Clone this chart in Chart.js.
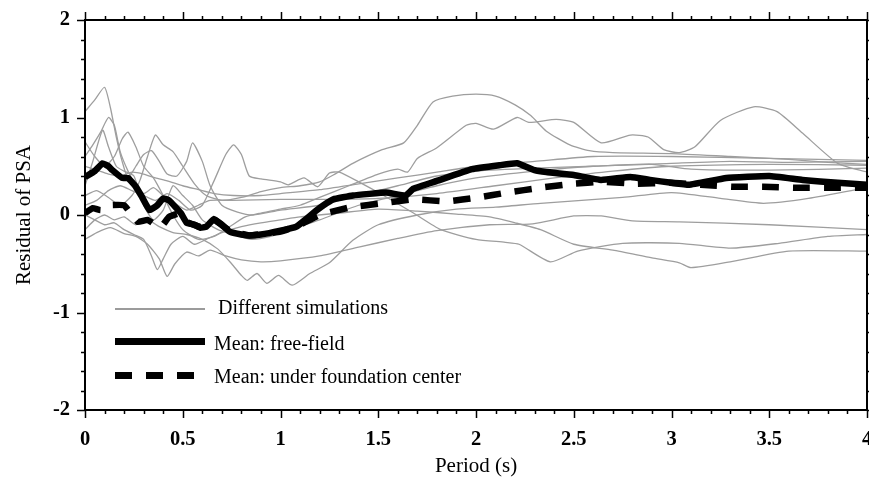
<!DOCTYPE html>
<html>
<head>
<meta charset="utf-8">
<script src="https://cdn.jsdelivr.net/npm/chart.js@4/dist/chart.umd.min.js"></script>
<style>
  html, body { margin: 0; padding: 0; background: #fff; }
  #wrap { position: relative; width: 869px; height: 479px; }
  .key-text {
    position: absolute;
    font-family: "Liberation Serif", "Times New Roman", serif;
    font-size: 20px;
    line-height: 20px;
    color: #000;
    white-space: nowrap;
  }
  .key-line { position: absolute; left: 115px; }
</style>
</head>
<body>
<div id="wrap">
  <canvas id="psaChart" width="869" height="479"></canvas>
  <div class="key-line" style="top:308px; width:90px; height:1.5px; background:#9b9b9b;"></div>
  <div class="key-text" style="left:218px; top:297px;">Different simulations</div>
  <div class="key-line" style="top:338px; width:90px; height:7px; background:#000;"></div>
  <div class="key-text" style="left:214px; top:333px;">Mean: free-field</div>
  <div class="key-line" style="top:372px; width:80px; height:7px; background:repeating-linear-gradient(90deg, #000 0 17px, transparent 17px 31px);"></div>
  <div class="key-text" style="left:214px; top:366px;">Mean: under foundation center</div>
</div>
<script>
// residual of PSA vs period, [period (s), residual]
const meanFreeField = [
  [0, 0.39], [0.05, 0.45], [0.09, 0.53], [0.12, 0.5], [0.14, 0.46], [0.19, 0.38], [0.22, 0.38],
  [0.26, 0.29], [0.29, 0.19], [0.33, 0.05], [0.37, 0.1], [0.4, 0.17], [0.43, 0.15], [0.49, 0.02],
  [0.52, -0.08], [0.56, -0.1], [0.59, -0.13], [0.62, -0.12], [0.66, -0.04], [0.7, -0.1],
  [0.74, -0.17], [0.8, -0.2], [0.84, -0.21], [0.9, -0.2], [1.0, -0.16], [1.08, -0.12],
  [1.12, -0.06], [1.18, 0.04], [1.22, 0.1], [1.27, 0.16], [1.37, 0.2], [1.54, 0.23], [1.64, 0.2],
  [1.68, 0.27], [1.8, 0.35], [1.98, 0.47], [2.12, 0.51], [2.21, 0.53], [2.3, 0.46], [2.36, 0.44],
  [2.5, 0.41], [2.64, 0.36], [2.79, 0.39], [2.89, 0.36], [3.0, 0.33], [3.09, 0.31], [3.28, 0.38],
  [3.5, 0.4], [3.67, 0.36], [3.85, 0.33], [4.0, 0.31]
];
const meanFoundation = [
  [0, 0.02], [0.04, 0.07], [0.08, 0.05], [0.12, 0.1], [0.2, 0.1], [0.24, 0.0], [0.27, -0.07],
  [0.32, -0.05], [0.36, -0.1], [0.39, -0.12], [0.43, -0.02], [0.49, 0.02], [0.52, -0.07],
  [0.59, -0.12], [0.66, -0.05], [0.74, -0.16], [0.84, -0.21], [1.0, -0.17], [1.1, -0.1],
  [1.2, 0.0], [1.36, 0.08], [1.52, 0.12], [1.68, 0.16], [1.85, 0.14], [2.01, 0.18], [2.16, 0.23],
  [2.33, 0.28], [2.49, 0.32], [2.65, 0.34], [2.82, 0.32], [2.99, 0.33], [3.15, 0.31], [3.31, 0.29],
  [3.47, 0.29], [3.63, 0.28], [3.8, 0.28], [4.0, 0.28]
];

// individual simulations
const sim1 = [
  [0, 1.06], [0.05, 1.18], [0.1, 1.31], [0.13, 1.1], [0.16, 0.8], [0.19, 0.55], [0.22, 0.38],
  [0.26, 0.5], [0.3, 0.62], [0.34, 0.66], [0.38, 0.55], [0.42, 0.42], [0.47, 0.4], [0.52, 0.55],
  [0.55, 0.74], [0.6, 0.55], [0.64, 0.3], [0.7, 0.1], [0.78, 0.03], [0.86, 0.0], [1.0, 0.05],
  [1.2, 0.1], [1.4, 0.2], [1.6, 0.3], [1.8, 0.4], [2.0, 0.45], [2.3, 0.48], [2.6, 0.5],
  [2.9, 0.52], [3.1, 0.47], [3.5, 0.46], [4.0, 0.48]
];
const sim2 = [
  [0, 0.2], [0.06, 0.25], [0.12, 0.18], [0.18, 0.1], [0.24, 0.2], [0.28, 0.35], [0.32, 0.6],
  [0.36, 0.82], [0.4, 0.72], [0.45, 0.65], [0.5, 0.5], [0.56, 0.32], [0.62, 0.2], [0.7, 0.15],
  [0.8, 0.18], [0.9, 0.24], [1.0, 0.28], [1.1, 0.3], [1.2, 0.34], [1.27, 0.41], [1.37, 0.53],
  [1.52, 0.67], [1.63, 0.74], [1.7, 0.92], [1.78, 1.16], [1.88, 1.22], [2.0, 1.24], [2.1, 1.22],
  [2.2, 1.13], [2.28, 1.02], [2.36, 0.86], [2.48, 0.72], [2.58, 0.66], [2.7, 0.64], [3.0, 0.63],
  [3.3, 0.6], [3.6, 0.57], [3.8, 0.54], [4.0, 0.52]
];
const sim3 = [
  [0, 0.75], [0.05, 0.6], [0.1, 0.5], [0.15, 0.6], [0.19, 0.78], [0.22, 0.85], [0.26, 0.7],
  [0.3, 0.5], [0.35, 0.38], [0.4, 0.2], [0.45, 0.0], [0.5, -0.15], [0.58, -0.25], [0.66, -0.22],
  [0.74, -0.12], [0.82, -0.02], [0.9, 0.02], [1.0, 0.06], [1.1, 0.1], [1.2, 0.18], [1.35, 0.3],
  [1.5, 0.42], [1.6, 0.47], [1.65, 0.44], [1.7, 0.58], [1.8, 0.69], [1.95, 0.92], [2.0, 0.94],
  [2.09, 0.88], [2.21, 1.0], [2.27, 0.95], [2.41, 0.98], [2.5, 0.95], [2.64, 0.74], [2.79, 0.82],
  [2.88, 0.8], [2.96, 0.67], [3.04, 0.64], [3.12, 0.7], [3.25, 0.97], [3.42, 1.11], [3.54, 1.06],
  [3.67, 0.84], [3.85, 0.53], [4.0, 0.44]
];
const sim4 = [
  [0, 0.1], [0.06, 0.15], [0.12, 0.25], [0.18, 0.3], [0.24, 0.25], [0.3, 0.2], [0.36, 0.15],
  [0.42, 0.22], [0.48, 0.15], [0.54, 0.05], [0.6, 0.1], [0.66, 0.35], [0.72, 0.62], [0.76, 0.72],
  [0.8, 0.62], [0.84, 0.4], [0.9, 0.37], [1.0, 0.34], [1.04, 0.31], [1.12, 0.38], [1.19, 0.29],
  [1.25, 0.43], [1.3, 0.44], [1.4, 0.34], [1.51, 0.22], [1.68, 0.02], [1.82, -0.15], [2.0, -0.25],
  [2.15, -0.28], [2.22, -0.3], [2.38, -0.48], [2.52, -0.37], [2.75, -0.29], [3.04, -0.29],
  [3.3, -0.34], [3.55, -0.29], [3.8, -0.22], [4.0, -0.2]
];
const sim5 = [
  [0, -0.15], [0.05, -0.05], [0.1, 0.0], [0.15, -0.05], [0.2, -0.02], [0.26, -0.1], [0.32, -0.05],
  [0.38, -0.12], [0.45, -0.18], [0.52, -0.2], [0.6, -0.25], [0.68, -0.35], [0.75, -0.5],
  [0.8, -0.62], [0.83, -0.67], [0.88, -0.6], [0.93, -0.7], [0.99, -0.62], [1.06, -0.72],
  [1.15, -0.6], [1.25, -0.49], [1.37, -0.26], [1.5, -0.1], [1.7, 0.0], [1.9, 0.06], [2.1, 0.08],
  [2.33, 0.12], [2.75, 0.18], [3.0, 0.23], [3.25, 0.17], [3.47, 0.12], [3.7, 0.17], [4.0, 0.28]
];
const sim6 = [
  [0, 0.0], [0.05, -0.05], [0.1, -0.1], [0.15, -0.08], [0.2, -0.15], [0.25, -0.2], [0.3, -0.25],
  [0.34, -0.42], [0.37, -0.56], [0.4, -0.45], [0.44, -0.3], [0.5, -0.22], [0.56, -0.3],
  [0.62, -0.25], [0.7, -0.18], [0.8, -0.12], [0.9, -0.08], [1.0, -0.05], [1.1, -0.02], [1.3, 0.02],
  [1.5, 0.06], [1.7, 0.04], [1.9, 0.01], [2.07, -0.02], [2.2, -0.08], [2.33, -0.15], [2.5, -0.3],
  [2.7, -0.36], [2.9, -0.44], [3.04, -0.49], [3.1, -0.54], [3.3, -0.48], [3.6, -0.37], [4.0, -0.37]
];
const sim7 = [
  [0, -0.25], [0.06, -0.18], [0.13, -0.13], [0.2, -0.19], [0.26, -0.22], [0.32, -0.3],
  [0.38, -0.45], [0.42, -0.63], [0.46, -0.5], [0.52, -0.38], [0.58, -0.42], [0.64, -0.36],
  [0.72, -0.42], [0.8, -0.46], [0.9, -0.48], [1.0, -0.47], [1.2, -0.42], [1.4, -0.33], [1.6, -0.24],
  [1.8, -0.16], [2.07, -0.1], [2.29, -0.09], [2.5, -0.01], [2.64, -0.01], [2.8, -0.06],
  [3.04, -0.07], [3.5, -0.1], [4.0, -0.15]
];
const sim8 = [
  [0, 0.5], [0.06, 0.46], [0.12, 0.42], [0.18, 0.4], [0.24, 0.44], [0.3, 0.42], [0.36, 0.38],
  [0.42, 0.35], [0.5, 0.3], [0.58, 0.26], [0.66, 0.22], [0.76, 0.2], [0.9, 0.2], [1.0, 0.22],
  [1.2, 0.26], [1.4, 0.32], [1.6, 0.38], [1.8, 0.44], [2.0, 0.5], [2.3, 0.55], [2.6, 0.6],
  [3.0, 0.6], [3.5, 0.58], [4.0, 0.56]
];
const sim9 = [
  [0, 0.6], [0.04, 0.72], [0.08, 0.85], [0.12, 1.0], [0.15, 0.92], [0.18, 0.65], [0.22, 0.45],
  [0.26, 0.3], [0.3, 0.22], [0.35, 0.28], [0.4, 0.2], [0.46, 0.12], [0.52, 0.05], [0.58, 0.1],
  [0.64, 0.15], [0.75, 0.15], [1.0, 0.16], [1.25, 0.16], [1.5, 0.17], [1.8, 0.22], [2.1, 0.3],
  [2.4, 0.38], [2.7, 0.45], [3.0, 0.5], [3.5, 0.52], [4.0, 0.51]
];
const sim10 = [
  [0, 0.3], [0.04, 0.55], [0.09, 0.87], [0.12, 0.7], [0.16, 0.5], [0.2, 0.45], [0.25, 0.4],
  [0.3, 0.1], [0.35, -0.05], [0.4, 0.05], [0.45, 0.3], [0.5, 0.2], [0.55, 0.1], [0.6, -0.05],
  [0.68, -0.15], [0.76, -0.2], [0.85, -0.25], [0.95, -0.22], [1.05, -0.15], [1.2, -0.05],
  [1.4, 0.1], [1.6, 0.2], [1.8, 0.3], [2.0, 0.38], [2.3, 0.45], [2.6, 0.5], [3.0, 0.53],
  [3.3, 0.55], [3.6, 0.54], [4.0, 0.55]
];
const simulations = [sim1, sim2, sim3, sim4, sim5, sim6, sim7, sim8, sim9, sim10];

const serif = '"Liberation Serif", "Times New Roman", serif';

// box around the plot with outward major and minor ticks on all four sides
const axisFrame = {
  id: "axisFrame",
  afterDraw(chart) {
    const { ctx, chartArea: a, scales } = chart;
    const x = scales.x, y = scales.y;
    ctx.save();
    ctx.strokeStyle = "#000";
    ctx.lineWidth = 1.5;
    ctx.beginPath();
    for (let i = 0; i <= 40; i++) {
      const px = Math.round(x.getPixelForValue(i / 10)) + 0.5;
      const len = i % 5 === 0 ? 8 : 4;
      ctx.moveTo(px, a.bottom); ctx.lineTo(px, a.bottom + len);
      ctx.moveTo(px, a.top); ctx.lineTo(px, a.top - len);
    }
    for (let i = -10; i <= 10; i++) {
      const py = Math.round(y.getPixelForValue(i / 5)) + 0.5;
      const len = i % 5 === 0 ? 8 : 4;
      ctx.moveTo(a.left, py); ctx.lineTo(a.left - len, py);
      ctx.moveTo(a.right, py); ctx.lineTo(a.right + len, py);
    }
    ctx.stroke();
    ctx.lineWidth = 2;
    ctx.strokeRect(a.left, a.top, a.right - a.left, a.bottom - a.top);
    ctx.restore();
  }
};

// fixed axis boxes, no extra room for overhanging tick labels
function fixBox(size, key) {
  return function (scale) {
    scale[key] = size;
    scale.paddingLeft = 0;
    scale.paddingRight = 0;
    scale.paddingTop = 0;
    scale.paddingBottom = 0;
  };
}

const datasets = [
  {
    label: "Mean: free-field",
    data: meanFreeField,
    borderColor: "#000",
    borderWidth: 6.5,
    borderJoinStyle: "round",
    pointRadius: 0,
    tension: 0.1
  },
  {
    label: "Mean: under foundation center",
    data: meanFoundation,
    borderColor: "#000",
    borderWidth: 6.5,
    borderDash: [17, 14],
    pointRadius: 0,
    tension: 0.1
  }
].concat(simulations.map((sim, i) => ({
  label: "Simulation " + (i + 1),
  data: sim,
  borderColor: "rgb(158,158,158)",
  borderWidth: 1.3,
  pointRadius: 0,
  tension: 0.2
})));

new Chart(document.getElementById("psaChart"), {
  type: "line",
  data: { datasets: datasets },
  options: {
    responsive: false,
    animation: false,
    layout: { padding: { top: 20, right: 2, left: 0, bottom: 0 } },
    plugins: {
      legend: { display: false },
      tooltip: { enabled: false }
    },
    scales: {
      x: {
        type: "linear",
        min: 0,
        max: 4,
        grid: { display: false, drawTicks: false },
        border: { display: false },
        ticks: {
          stepSize: 0.5,
          padding: 17,
          maxRotation: 0,
          color: "#000",
          font: { family: serif, size: 20.5, weight: "bold" },
          callback: (value) => String(value)
        },
        title: {
          display: true,
          text: "Period (s)",
          color: "#000",
          font: { family: serif, size: 21 },
          padding: { top: 0, bottom: 0 }
        },
        afterFit: fixBox(69, "height")
      },
      y: {
        min: -2,
        max: 2,
        grid: { display: false, drawTicks: false },
        border: { display: false },
        ticks: {
          stepSize: 1,
          padding: 15,
          color: "#000",
          font: { family: serif, size: 20.5, weight: "bold" },
          callback: (value) => String(value)
        },
        title: {
          display: true,
          text: "Residual of PSA",
          color: "#000",
          font: { family: serif, size: 21 },
          padding: { top: 12, bottom: 0 }
        },
        afterFit: fixBox(85, "width")
      }
    }
  },
  plugins: [axisFrame]
});
</script>
</body>
</html>
